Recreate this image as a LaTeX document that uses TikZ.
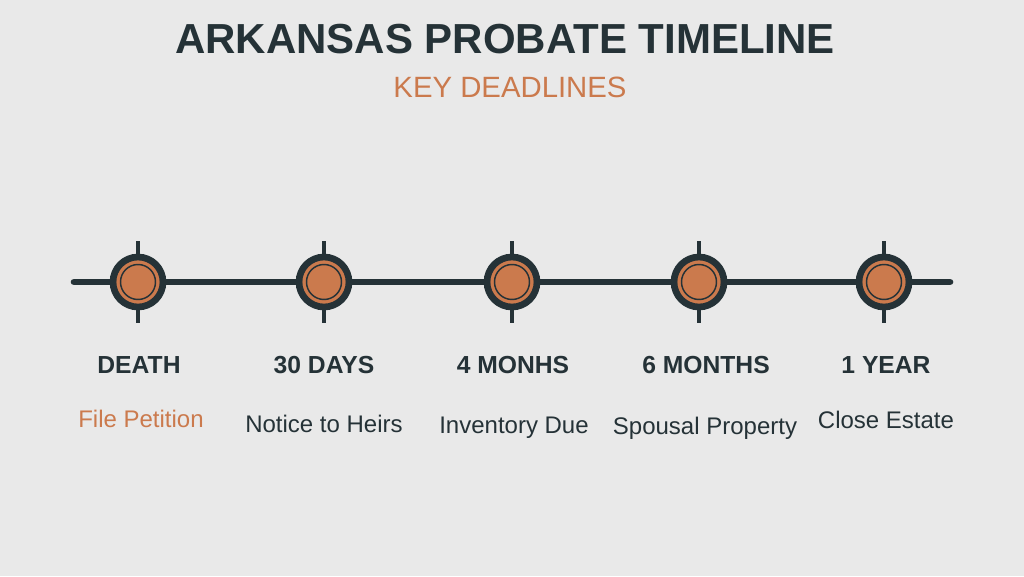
\documentclass[tikz,border=0pt]{standalone}
\usepackage{fontspec}
\setmainfont{Liberation Sans}
\usepackage{xcolor}

\definecolor{bgcol}{HTML}{E9E9E9}
\definecolor{darkslate}{HTML}{253237}
\definecolor{rust}{HTML}{CB7A4D}

\tikzset{
  milestone/.style={circle,fill=rust,draw=darkslate,line width=5pt,minimum size=37.5pt,inner sep=0,outer sep=0},
  ring/.style={draw=darkslate,line width=1.1pt},
  tick/.style={draw=darkslate,line width=3pt},
  spine/.style={draw=darkslate,line width=5pt,line cap=round},
  datelabel/.style={anchor=base,font=\fontsize{18.5}{22}\selectfont\bfseries,text=darkslate,inner sep=0},
  tasklabel/.style={anchor=base,font=\fontsize{18}{22}\selectfont,text=darkslate,inner sep=0}
}

\begin{document}
\begin{tikzpicture}[x=0.75pt,y=-0.75pt]
\fill[bgcol] (0,0) rectangle (1024,576);
\useasboundingbox (0,0) rectangle (1024,576);

% heading
\node[anchor=base,font=\fontsize{31.5}{36}\selectfont\bfseries,text=darkslate,inner sep=0] (title) at (505,53) {ARKANSAS PROBATE TIMELINE};
\node[anchor=base,font=\fontsize{22}{26}\selectfont,text=rust,inner sep=0] (subtitle) at (510,97) {KEY DEADLINES};

% milestones
\node[milestone] (death) at (138,282) {};
\node[milestone] (days30) at (324,282) {};
\node[milestone] (months4) at (512,282) {};
\node[milestone] (months6) at (699,282) {};
\node[milestone] (year1) at (884,282) {};

\coordinate (tl-start) at (74,282);
\coordinate (tl-end) at (950,282);
\draw[spine] (tl-start) -- (death);
\draw[spine] (death) -- (days30);
\draw[spine] (days30) -- (months4);
\draw[spine] (months4) -- (months6);
\draw[spine] (months6) -- (year1);
\draw[spine] (year1) -- (tl-end);

% inner rings
\draw[ring] (death.center) circle (17.5);
\draw[ring] (days30.center) circle (17.5);
\draw[ring] (months4.center) circle (17.5);
\draw[ring] (months6.center) circle (17.5);
\draw[ring] (year1.center) circle (17.5);

% ticks
\draw[tick] (death.north) -- ++(0,-16);
\draw[tick] (death.south) -- ++(0,16);
\draw[tick] (days30.north) -- ++(0,-16);
\draw[tick] (days30.south) -- ++(0,16);
\draw[tick] (months4.north) -- ++(0,-16);
\draw[tick] (months4.south) -- ++(0,16);
\draw[tick] (months6.north) -- ++(0,-16);
\draw[tick] (months6.south) -- ++(0,16);
\draw[tick] (year1.north) -- ++(0,-16);
\draw[tick] (year1.south) -- ++(0,16);

% labels
\node[datelabel] (death-date) at (139,373) {DEATH};
\node[datelabel] (days30-date) at (324,373) {30 DAYS};
\node[datelabel] (months4-date) at (513,373) {4 MONHS};
\node[datelabel] (months6-date) at (706,373) {6 MONTHS};
\node[datelabel] (year1-date) at (886,373) {1 YEAR};

\node[tasklabel,text=rust] (death-task) at (141,427) {File Petition};
\node[tasklabel] (days30-task) at (324,432) {Notice to Heirs};
\node[tasklabel] (months4-task) at (514,433) {Inventory Due};
\node[tasklabel] (months6-task) at (705,434) {Spousal Property};
\node[tasklabel] (year1-task) at (886,428) {Close Estate};
\end{tikzpicture}
\end{document}
